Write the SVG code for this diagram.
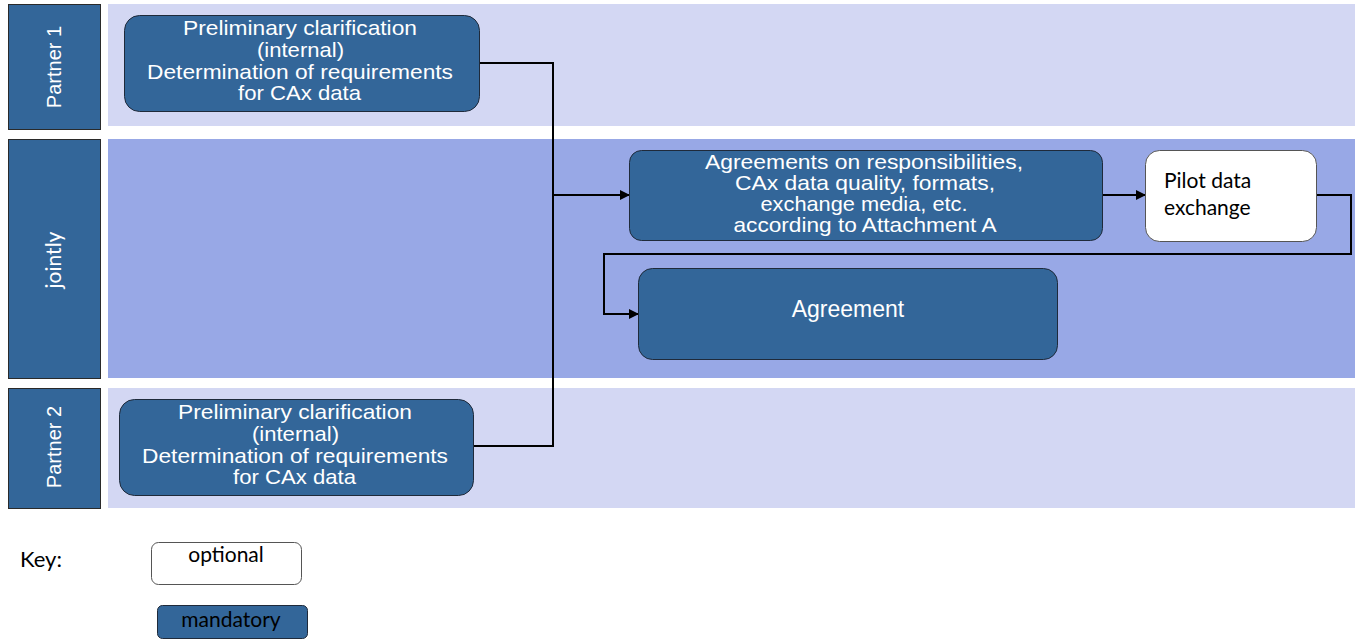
<svg xmlns="http://www.w3.org/2000/svg" width="1359" height="639" viewBox="0 0 1359 639">
<style>
.hdr{fill:#336699;stroke:#2a2a2a;stroke-width:1}
.band1{fill:#d3d7f3}
.band2{fill:#98a8e6}
.mand{fill:#336699;stroke:#1f2a3a;stroke-width:1}
.opt{fill:#ffffff;stroke:#555;stroke-width:1}
.t{font-family:"Liberation Sans",Arial,sans-serif;font-size:21px;fill:#ffffff;text-anchor:middle}
.c{font-family:Lato,"Open Sans",sans-serif;font-size:21px;fill:#000}
.lane{font-family:"Liberation Sans",Arial,sans-serif;font-size:20px;fill:#ffffff;text-anchor:middle}
.conn{fill:none;stroke:#000;stroke-width:2}
</style>
<defs>
<marker id="arr" markerWidth="10" markerHeight="10" refX="9" refY="5" orient="auto" markerUnits="userSpaceOnUse">
<path d="M0,0 L10,5 L0,10 Z" fill="#000"/>
</marker>
</defs>
<rect width="1359" height="639" fill="#ffffff"/>
<g id="lanes">
<rect class="band1" x="108" y="4" width="1247" height="122"/>
<rect class="band2" x="108" y="139" width="1247" height="239"/>
<rect class="band1" x="108" y="388" width="1247" height="120"/>
<g id="lane-partner1"><rect class="hdr" x="8.5" y="4.5" width="92" height="125"/><text class="lane" transform="translate(61,67) rotate(-90)">Partner 1</text></g>
<g id="lane-jointly"><rect class="hdr" x="8.5" y="139.5" width="92" height="239"/><text class="lane" style="font-family:Lato,'Open Sans',sans-serif;font-size:21px" transform="translate(61,260) rotate(-90)">jointly</text></g>
<g id="lane-partner2"><rect class="hdr" x="8.5" y="388.5" width="92" height="120"/><text class="lane" transform="translate(61,447) rotate(-90)">Partner 2</text></g>
</g>
<g id="connectors">
<polyline class="conn" points="479,63 553,63 553,446 473,446"/>
<polyline class="conn" points="553,195 629,195" marker-end="url(#arr)"/>
<polyline class="conn" points="1102,195 1145,195" marker-end="url(#arr)"/>
<polyline class="conn" points="1316,195 1351,195 1351,254 604,254 604,314 638,314" marker-end="url(#arr)"/>
</g>
<g id="node-p1">
<rect class="mand" x="124.5" y="15.5" width="355" height="96" rx="15"/>
<text class="t"><tspan x="300" y="35" textLength="234" lengthAdjust="spacingAndGlyphs">Preliminary clarification</tspan><tspan x="300.5" y="57" textLength="87" lengthAdjust="spacingAndGlyphs">(internal)</tspan><tspan x="300" y="79" textLength="306" lengthAdjust="spacingAndGlyphs">Determination of requirements</tspan><tspan x="299.5" y="100" textLength="123" lengthAdjust="spacingAndGlyphs">for CAx data</tspan></text>
</g>
<g id="node-p2">
<rect class="mand" x="119.5" y="399.5" width="354" height="96" rx="15"/>
<text class="t"><tspan x="295" y="419" textLength="234" lengthAdjust="spacingAndGlyphs">Preliminary clarification</tspan><tspan x="295.5" y="441" textLength="87" lengthAdjust="spacingAndGlyphs">(internal)</tspan><tspan x="295" y="463" textLength="306" lengthAdjust="spacingAndGlyphs">Determination of requirements</tspan><tspan x="294.5" y="484" textLength="123" lengthAdjust="spacingAndGlyphs">for CAx data</tspan></text>
</g>
<g id="node-agreements">
<rect class="mand" x="629.5" y="150.5" width="473" height="90" rx="12"/>
<text class="t"><tspan x="864" y="169" textLength="318" lengthAdjust="spacingAndGlyphs">Agreements on responsibilities,</tspan><tspan x="865" y="190" textLength="260" lengthAdjust="spacingAndGlyphs">CAx data quality, formats,</tspan><tspan x="864" y="211" textLength="207" lengthAdjust="spacingAndGlyphs">exchange media, etc.</tspan><tspan x="865" y="232" textLength="263" lengthAdjust="spacingAndGlyphs">according to Attachment A</tspan></text>
</g>
<g id="node-pilot">
<rect class="opt" x="1145.5" y="150.5" width="171" height="91" rx="14"/>
<text class="c"><tspan x="1164" y="188">Pilot data</tspan><tspan x="1164" y="215">exchange</tspan></text>
</g>
<g id="node-agreement">
<rect class="mand" x="638.5" y="268.5" width="419" height="91" rx="14"/>
<text class="t" style="font-size:23px" x="848" y="317">Agreement</text>
</g>
<g id="key">
<text class="c" x="20" y="567" style="font-size:22px">Key:</text>
<rect class="opt" x="151.5" y="542.5" width="150" height="42" rx="7"/>
<text class="c" x="226" y="562" text-anchor="middle">optional</text>
<rect class="mand" x="157.5" y="605.5" width="150" height="33" rx="5"/>
<text class="c" x="231" y="627" text-anchor="middle">mandatory</text>
</g>
</svg>
